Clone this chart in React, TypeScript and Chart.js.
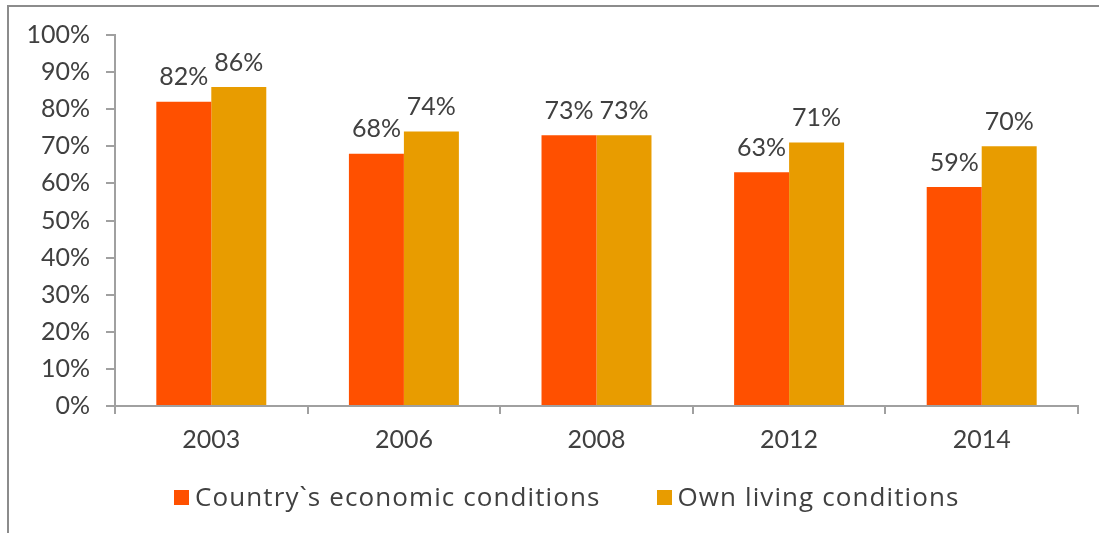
import React, { useEffect, useRef } from "react";
import { Chart, registerables } from "chart.js";

Chart.register(...registerables);

const categories = ["2003", "2006", "2008", "2012", "2014"];
const seriesNames = ["Country`s economic conditions", "Own living conditions"];
const economicValues = [82, 68, 73, 63, 59];
const livingValues = [86, 74, 73, 71, 70];
const seriesColors = ["#FF5000", "#E89C00"];
const yTicks = [0, 10, 20, 30, 40, 50, 60, 70, 80, 90, 100];

const FONT = "Lato";
const LEGEND_FONT = "'Open Sans'";
const TEXT = "#404040";
const AXIS = "#A0A0A0";

const valueLabels = {
  id: "valueLabels",
  afterDatasetsDraw(chart: any) {
    const ctx = chart.ctx;
    ctx.save();
    ctx.font = `25px ${FONT}`;
    ctx.fillStyle = TEXT;
    ctx.textAlign = "center";
    ctx.textBaseline = "bottom";
    chart.data.datasets.forEach((ds: any, i: number) => {
      const meta = chart.getDatasetMeta(i);
      meta.data.forEach((bar: any, j: number) => {
        ctx.fillText(ds.data[j] + "%", bar.x, bar.y - 12);
      });
    });
    ctx.restore();
  },
};

const customLegend = {
  id: "customLegend",
  afterDraw(chart: any) {
    const ctx = chart.ctx;
    ctx.save();
    ctx.font = `26px ${LEGEND_FONT}`;
    (ctx as any).letterSpacing = "1.1px";
    const box = 15;
    const gap = 6;
    const spacing = 56;
    const y = 497.5;
    let x = 174;
    chart.data.datasets.forEach((ds: any) => {
      ctx.fillStyle = ds.backgroundColor;
      ctx.fillRect(Math.round(x), Math.round(y - box / 2), box, box);
      ctx.fillStyle = TEXT;
      ctx.textAlign = "left";
      ctx.textBaseline = "middle";
      ctx.fillText(ds.label, x + box + gap, y + 1);
      x += box + gap + ctx.measureText(ds.label).width + spacing;
    });
    ctx.restore();
  },
};

export default function App() {
  const ref = useRef<HTMLCanvasElement>(null);
  useEffect(() => {
    if (!ref.current) return;
    const chart = new Chart(ref.current, {
      type: "bar",
      data: {
        labels: categories,
        datasets: [
          { label: seriesNames[0], data: economicValues, backgroundColor: seriesColors[0], categoryPercentage: 0.571, barPercentage: 1 },
          { label: seriesNames[1], data: livingValues, backgroundColor: seriesColors[1], categoryPercentage: 0.571, barPercentage: 1 },
        ],
      },
      options: {
        animation: false,
        responsive: false,
        maintainAspectRatio: false,
        layout: { padding: { top: 35, right: 21, bottom: 67, left: 0 } },
        plugins: { legend: { display: false }, tooltip: { enabled: false } },
        scales: {
          x: {
            grid: { drawOnChartArea: false, tickLength: 8, color: AXIS, lineWidth: 2, offset: true },
            border: { color: AXIS, width: 2 },
            ticks: { font: { family: FONT, size: 25 }, color: TEXT, padding: 11 },
            afterFit(scale: any) { scale.height = 60; },
          },
          y: {
            min: 0,
            max: 100,
            afterBuildTicks(scale: any) { scale.ticks = yTicks.map((v) => ({ value: v })); },
            grid: { drawOnChartArea: false, tickLength: 9, color: AXIS, lineWidth: 2 },
            border: { color: AXIS, width: 2 },
            ticks: { font: { family: FONT, size: 25 }, color: TEXT, padding: 16, callback: (v: any) => v + "%" },
            afterFit(scale: any) { scale.width = 115; },
          },
        },
      },
      plugins: [valueLabels, customLegend],
    });
    return () => chart.destroy();
  }, []);
  return (
    <div style={{ position: "absolute", left: 0, top: 0, width: 1099, height: 533, background: "#fff", overflow: "hidden" }}>
      <div style={{ position: "absolute", left: 7, top: 5, width: 1200, height: 600, borderTop: "2px solid #8C8C8C", borderLeft: "2px solid #8C8C8C" }} />
      <canvas ref={ref} width={1099} height={533} style={{ position: "absolute", left: 0, top: 0 }} />
    </div>
  );
}
